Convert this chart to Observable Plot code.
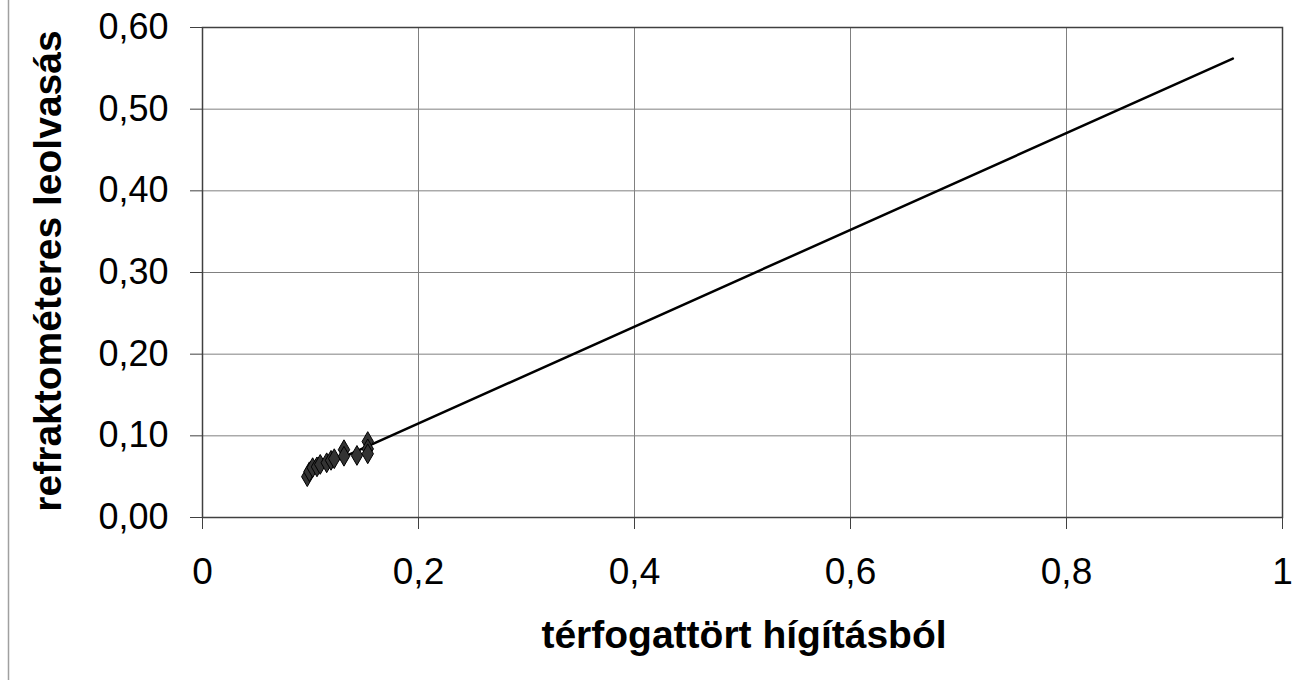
<!DOCTYPE html>
<html><head><meta charset="utf-8">
<script src="https://cdn.jsdelivr.net/npm/d3@7"></script>
<script src="https://cdn.jsdelivr.net/npm/@observablehq/plot@0.6"></script>
<style>
body{margin:0;background:#fff;}
#chart{position:relative;width:1304px;height:680px;}
#chart svg{font-family:"Liberation Sans",Arial,sans-serif;}
</style>
</head><body><div id="chart"></div>
<script>
const pointX = [0.097,0.099,0.102,0.106,0.109,0.115,0.119,0.122,0.131,0.131,0.143,0.153,0.153,0.153];
const pointY = [0.050,0.056,0.061,0.062,0.065,0.067,0.070,0.072,0.083,0.075,0.076,0.093,0.084,0.078];
const trendX = [0.1, 0.954];
const trendY = [0.056, 0.562];
const xTicks = [0,0.2,0.4,0.6,0.8,1];
const yTicks = [0,0.1,0.2,0.3,0.4,0.5,0.6];
const xTitle = "térfogattört hígításból";
const yTitle = "refraktométeres leolvasás";

const points = pointX.map((x,i)=>({x, y: pointY[i]}));
const trend = trendX.map((x,i)=>({x, y: trendY[i]}));
const fmtX = d => (d===0||d===1) ? String(d) : d.toFixed(1).replace(".",",");
const fmtY = d => d.toFixed(2).replace(".",",");

const plot = Plot.plot({
  width:1304, height:680,
  marginLeft:202, marginRight:22, marginTop:27, marginBottom:163,
  style:{fontSize:"36px", fontFamily:"Liberation Sans, Arial, sans-serif", background:"#fff"},
  x:{domain:[0,1], label:null},
  y:{domain:[0,0.6], label:null},
  marks:[
    Plot.gridX(xTicks.filter(d=>d>0&&d<1), {stroke:"#808080", strokeOpacity:1, strokeWidth:1}),
    Plot.gridY(yTicks.filter(d=>d>0&&d<0.6), {stroke:"#808080", strokeOpacity:1, strokeWidth:1}),
    Plot.frame({stroke:"#404040", strokeWidth:1.5}),
    Plot.axisX({ticks:xTicks, tickFormat:fmtX, tickSize:12, tickPadding:28, stroke:"#404040", fill:"#000", label:null, fontSize:37}),
    Plot.axisY({ticks:yTicks, tickFormat:fmtY, tickSize:12, tickPadding:22, stroke:"#404040", fill:"#000", label:null, fontSize:36}),
    Plot.line(trend, {x:"x", y:"y", stroke:"#000", strokeWidth:2.5}),
    Plot.dot(points, {x:"x", y:"y", symbol:"diamond", r:6, fill:"#333", stroke:"#000", strokeWidth:1})
  ]
});
document.getElementById("chart").appendChild(plot);
const svg = d3.select(plot);
svg.append("line").attr("x1",8.5).attr("x2",8.5).attr("y1",0).attr("y2",680).attr("stroke","#a0a0a0").attr("stroke-width",1.5);
svg.append("text").attr("x",744).attr("y",648).attr("text-anchor","middle")
  .attr("font-weight","bold").attr("font-size",39).attr("fill","#000").text(xTitle);
svg.append("text").attr("transform","translate(61,271) rotate(-90)").attr("text-anchor","middle")
  .attr("font-weight","bold").attr("font-size",39).attr("fill","#000").text(yTitle);
</script>
</body></html>
